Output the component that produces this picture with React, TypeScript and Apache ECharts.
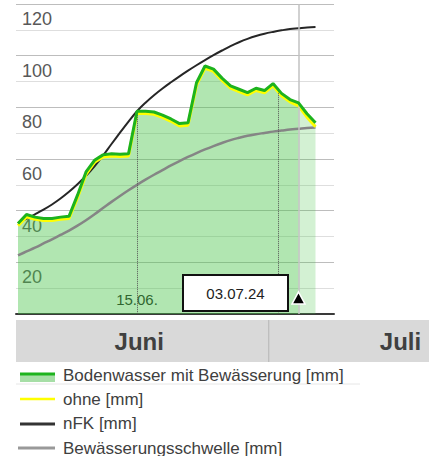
import React, { useEffect, useRef } from "react";
import * as echarts from "echarts";

// Day relative to 1 June (1 = 01.06., 31 = 01.07.)
const days = [1, 2, 3, 4, 5, 6, 7, 8, 9, 10, 11, 12, 13, 14, 15, 16, 17, 18, 19, 20, 21, 22, 23, 24, 25, 26, 27, 28, 29, 30, 31, 32, 33, 34, 35, 36];

const bodenwasser = [45, 48.5, 47.5, 47, 47, 47.5, 47.8, 56, 65, 69.5, 71.6, 72, 71.8, 72, 88.5, 88.5, 88.2, 87, 85.5, 83.7, 84, 99.5, 106, 104.8, 101.3, 98.3, 97, 95.7, 97.4, 96.5, 99.2, 95.4, 93, 91.7, 87.5, 84];
const ohne = [44.2, 47.6, 46.7, 46.2, 46.2, 46.7, 47, 55, 64, 68.7, 70.8, 71.2, 71, 71.2, 87.6, 87.6, 87.3, 86.1, 84.6, 82.8, 83.1, 98.6, 105.1, 103.9, 100.4, 97.4, 96.1, 94.8, 96.5, 95.6, 98.3, 94.5, 92.1, 90.6, 86.2, 82.5];
const nfk = [45.2, 46.9, 48.6, 50.4, 52.4, 54.7, 57.3, 60.2, 63.5, 67.2, 71.3, 75.8, 80.2, 84.5, 88.5, 91.8, 94.7, 97.3, 99.7, 102, 104.2, 106.3, 108.3, 110.2, 112, 113.7, 115.2, 116.5, 117.6, 118.5, 119.2, 119.8, 120.3, 120.6, 120.9, 121.1];
const schwelle = [32.7, 34.2, 35.7, 37.3, 38.9, 40.6, 42.3, 44.2, 46.3, 48.6, 51, 53.4, 55.7, 57.9, 60, 62, 63.9, 65.7, 67.5, 69.2, 70.8, 72.3, 73.7, 75, 76.2, 77.3, 78.2, 79, 79.6, 80.1, 80.6, 81, 81.4, 81.7, 82, 82.2];

const todayDay = 34;
const dropLines = [
  { day: 15, value: 88.5 },
  { day: 31.6, value: 96.4 },
];
const trianglePoint = [34, 16.2];
const dateLabelDay = 15;
const dateLabelText = "15.06.";
const boxText = "03.07.24";

const months = ["Juni", "Juli"];
const monthStart = [0.5, 30.5];
const monthEnd = [30.5, 61.5];

const legendNames = [
  "Bodenwasser mit Bewässerung [mm]",
  "ohne [mm]",
  "nFK [mm]",
  "Bewässerungsschwelle [mm]",
];

const FONT = "'Liberation Sans', Arial, sans-serif";

export default function App() {
  const ref = useRef<HTMLDivElement>(null);

  useEffect(() => {
    document.body.style.margin = "0";
    const chart = echarts.init(ref.current!, null, { renderer: "svg" });
    const pair = (arr: number[]) => days.map((d, i) => [d, arr[i]]);
    const darkIdx = days.indexOf(todayDay);

    const xMin = 1 - 2 / 8.5;
    const xMax = xMin + 318 / 8.5;

    chart.setOption({
      animation: false,
      textStyle: { fontFamily: FONT },
      grid: { left: 16, right: 95, top: 4, bottom: 142 },
      xAxis: {
        type: "value",
        min: xMin,
        max: xMax,
        splitLine: { show: false },
        axisLine: { show: true, onZero: false, lineStyle: { color: "#3a3a3a", width: 2 } },
        axisTick: { show: false },
        axisLabel: {
          inside: true,
          customValues: [dateLabelDay],
          formatter: () => dateLabelText,
          margin: 7,
          fontSize: 15,
          color: "#222",
          fontFamily: FONT,
        },
      },
      yAxis: {
        type: "value",
        min: 10,
        max: 130,
        interval: 10,
        axisLine: { show: false },
        axisTick: { show: false },
        splitLine: { show: true, lineStyle: { color: ["#bdbdbd", "#dedede"], width: 1 } },
        axisLabel: {
          inside: true,
          margin: 6,
          align: "left",
          verticalAlign: "bottom",
          padding: [0, 0, 2, 0],
          fontSize: 18,
          color: "#585858",
          fontFamily: FONT,
          textBorderColor: "rgba(255,255,255,0.9)",
          textBorderWidth: 3,
          formatter: (v: number) => (v % 20 === 0 && v >= 20 && v <= 120 ? String(v) : ""),
        },
      },
      series: [
        {
          name: "areaDark",
          type: "line",
          data: pair(bodenwasser).slice(0, darkIdx + 1),
          symbol: "none",
          lineStyle: { width: 0, opacity: 0 },
          areaStyle: { origin: "start", color: "rgba(70,195,70,0.42)", opacity: 1 },
          z: 1,
          silent: true,
          markLine: {
            silent: true,
            symbol: ["none", "none"],
            label: { show: false },
            lineStyle: { color: "#555", type: "dotted", width: 1 },
            data: dropLines.map((l) => [{ coord: [l.day, l.value] }, { coord: [l.day, 10] }]),
          },
        },
        {
          name: "areaLight",
          type: "line",
          data: pair(bodenwasser).slice(darkIdx),
          symbol: "none",
          lineStyle: { width: 0, opacity: 0 },
          areaStyle: { origin: "start", color: "rgba(70,195,70,0.24)", opacity: 1 },
          z: 1,
          silent: true,
          markLine: {
            silent: true,
            symbol: ["none", "none"],
            label: { show: false },
            lineStyle: { color: "#c2c2c2", type: "solid", width: 1.5 },
            data: [{ xAxis: todayDay }],
          },
        },
        {
          name: "Bewässerungsschwelle",
          type: "line",
          data: pair(schwelle),
          symbol: "none",
          smooth: 0.4,
          lineStyle: { color: "#858585", width: 2.5 },
          z: 3,
        },
        {
          name: "nFK",
          type: "line",
          data: pair(nfk),
          symbol: "none",
          smooth: 0.4,
          lineStyle: { color: "#262626", width: 2 },
          z: 3,
        },
        {
          name: "ohne",
          type: "line",
          data: pair(ohne),
          symbol: "none",
          lineStyle: { color: "#ffff00", width: 3 },
          z: 4,
        },
        {
          name: "Bodenwasser",
          type: "line",
          data: pair(bodenwasser),
          symbol: "none",
          lineStyle: { color: "#1db31d", width: 3 },
          z: 5,
          markPoint: {
            silent: true,
            symbol: "triangle",
            symbolSize: [13, 12],
            itemStyle: { color: "#000", borderColor: "#fff", borderWidth: 1.5 },
            label: { show: false },
            data: [{ coord: trianglePoint }],
          },
        },
      ],
    });

    const px = (v: number) => chart.convertToPixel({ xAxisIndex: 0 }, v) as number;
    const bandTop = 320;
    const bandH = 42;
    const graphic: any[] = [
      { type: "rect", shape: { x: 16, y: bandTop, width: 429 - 16, height: bandH }, style: { fill: "#d9d9d9" }, silent: true },
    ];
    months.forEach((m, i) => {
      const a = px(monthStart[i]);
      const b = px(monthEnd[i]);
      if (i > 0) {
        graphic.push({
          type: "line",
          shape: { x1: a, y1: bandTop, x2: a, y2: bandTop + bandH },
          style: { stroke: "#b5b5b5", lineWidth: 1 },
          silent: true,
        });
      }
      graphic.push({
        type: "text",
        x: (a + b) / 2 - (i === 0 ? 2 : 0),
        y: bandTop + bandH / 2,
        style: {
          text: m,
          fontSize: 24,
          fontWeight: "bold",
          fontFamily: FONT,
          fill: "#404040",
          align: "center",
          verticalAlign: "middle",
        },
        silent: true,
      });
    });

    // date box
    graphic.push({
      type: "rect",
      shape: { x: 183, y: 275, width: 105, height: 36 },
      style: { fill: "#fff", stroke: "#111", lineWidth: 2 },
      silent: true,
      z: 10,
    });
    graphic.push({
      type: "text",
      x: 235.5,
      y: 293,
      style: { text: boxText, fontSize: 15, fontFamily: FONT, fill: "#222", align: "center", verticalAlign: "middle" },
      silent: true,
      z: 11,
    });

    // legend
    const rowsY = [375, 399, 423, 448];
    graphic.push({ type: "rect", shape: { x: 20, y: 375, width: 35, height: 7 }, style: { fill: "#a6dea6" }, silent: true });
    graphic.push({ type: "line", shape: { x1: 20, y1: 374, x2: 55, y2: 374 }, style: { stroke: "#1db31d", lineWidth: 3 }, silent: true });
    graphic.push({ type: "line", shape: { x1: 20, y1: 399, x2: 55, y2: 399 }, style: { stroke: "#ffff00", lineWidth: 2.5 }, silent: true });
    graphic.push({ type: "line", shape: { x1: 20, y1: 424, x2: 55, y2: 424 }, style: { stroke: "#333", lineWidth: 3 }, silent: true });
    graphic.push({ type: "line", shape: { x1: 18, y1: 448, x2: 55, y2: 448 }, style: { stroke: "#999", lineWidth: 3 }, silent: true });
    graphic.push({ type: "line", shape: { x1: 16, y1: 384, x2: 360, y2: 384 }, style: { stroke: "#e6e6e6", lineWidth: 1 }, silent: true });
    legendNames.forEach((n, i) => {
      graphic.push({
        type: "text",
        x: 63,
        y: rowsY[i],
        style: { text: n, fontSize: 17, fontFamily: FONT, fill: "#404040", align: "left", verticalAlign: "middle" },
        silent: true,
      });
    });

    chart.setOption({ graphic });

    return () => chart.dispose();
  }, []);

  return <div ref={ref} style={{ width: 429, height: 456, position: "absolute", left: 0, top: 0 }} />;
}
